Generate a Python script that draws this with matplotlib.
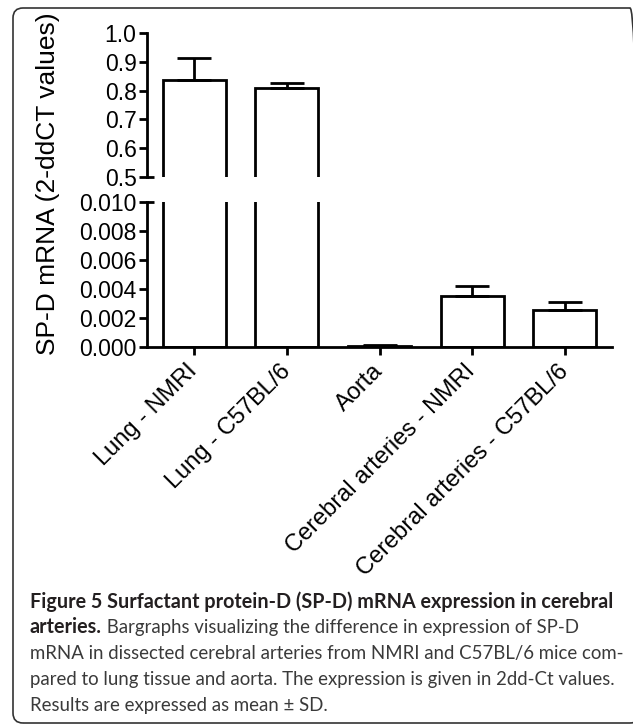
import numpy as np
import matplotlib
matplotlib.use('Agg')
import matplotlib.pyplot as plt
from matplotlib.ticker import FormatStrFormatter
from matplotlib.patches import FancyBboxPatch

# data (mean and SD, 2-ddCT)
groups = ['Lung - NMRI', 'Lung - C57BL/6', 'Aorta',
          'Cerebral arteries - NMRI', 'Cerebral arteries - C57BL/6']
means = [0.838, 0.809, 0.0001, 0.00352, 0.00255]
sds = [0.076, 0.017, 0.00005, 0.00070, 0.00055]

caption_bold1 = 'Figure 5 Surfactant protein-D (SP-D) mRNA expression in cerebral'
caption_bold2 = 'arteries.'
caption_rest = [' Bargraphs visualizing the difference in expression of SP-D',
                'mRNA in dissected cerebral arteries from NMRI and C57BL/6 mice com-',
                'pared to lung tissue and aorta. The expression is given in 2dd-Ct values.',
                'Results are expressed as mean \u00b1 SD.']

plt.rcParams['font.family'] = ['Liberation Sans', 'DejaVu Sans']
W, H = 633, 725
fig = plt.figure(figsize=(W / 100, H / 100), dpi=100)

def px(x0, y_top, x1, y_bot):
    # axes rect from pixel box
    return [x0 / W, 1 - y_bot / H, (x1 - x0) / W, (y_bot - y_top) / H]

ax_hi = fig.add_axes(px(147, 33, 612, 177))
ax_lo = fig.add_axes(px(147, 202, 612, 347))

x = np.arange(len(groups))
lw = 2
for ax in (ax_hi, ax_lo):
    ax.bar(x, means, width=0.68, color='white', edgecolor='black', linewidth=lw, zorder=2)
    ax.errorbar(x, means, yerr=[np.zeros(len(sds)), sds], fmt='none', ecolor='black',
                elinewidth=lw, capsize=12.5, capthick=lw, zorder=3)
    ax.set_xlim(-0.51, 4.51)
    ax.spines['top'].set_visible(False)
    ax.spines['right'].set_visible(False)
    ax.spines['left'].set_linewidth(lw)
    ax.spines['bottom'].set_linewidth(lw)
    ax.tick_params(axis='y', labelsize=16.5, length=5.5, width=lw, pad=2)
    ax.yaxis.remove_overlapping_locs = False

ax_hi.set_ylim(0.5, 1.0)
ax_hi.set_yticks(np.arange(0.5, 1.01, 0.1))
ax_hi.yaxis.set_major_formatter(FormatStrFormatter('%.1f'))
ax_hi.spines['bottom'].set_visible(False)
ax_hi.set_xticks([])
ax_hi.set_yticks([0.5], minor=True)

ax_lo.set_ylim(0, 0.010)
ax_lo.set_yticks(np.arange(0, 0.0101, 0.002))
ax_lo.yaxis.set_major_formatter(FormatStrFormatter('%.3f'))
ax_lo.set_yticks([0.010], minor=True)
ax_lo.set_xticks(x)
ax_lo.set_xticklabels(groups, rotation=45, ha='right', va='center',
                      rotation_mode='anchor', fontsize=17)
ax_lo.tick_params(axis='x', length=6, width=lw, pad=9)

for ax in (ax_hi, ax_lo):
    ax.tick_params(axis='y', which='minor', direction='in', length=5, width=lw)

fig.text(48 / W, 1 - 184 / H, 'SP-D mRNA (2-ddCT values)', rotation=90,
         ha='center', va='center', fontsize=19)

# caption, sized so the long lines span the same width as in the figure
cap_font = ['Lato', 'DejaVu Sans']
x0 = 30 / W
x_end = 616
base = [608, 633, 659, 685, 711]
renderer = fig.canvas.get_renderer()

t1 = fig.text(x0, 1 - base[0] / H, caption_bold1, fontsize=14, fontweight='bold',
              family=cap_font, va='baseline', color='#231f20')
probe = fig.text(x0, 1 - base[3] / H, caption_rest[2], fontsize=14, family=cap_font,
                 va='baseline', color='#3a3a3a')
cs_b = 14 * (x_end - 30) / t1.get_window_extent(renderer).width
cs = 14 * (x_end - 30) / probe.get_window_extent(renderer).width
t1.set_fontsize(cs_b)
probe.set_fontsize(cs)

t2 = fig.text(x0, 1 - base[1] / H, caption_bold2, fontsize=cs_b, fontweight='bold',
              family=cap_font, va='baseline', color='#231f20')
plt.annotate(caption_rest[0], xy=(1.0, 1 - base[1] / H), xycoords=(t2, 'figure fraction'),
             fontsize=cs, family=cap_font, va='baseline', ha='left', color='#3a3a3a')
fig.text(x0, 1 - base[2] / H, caption_rest[1], fontsize=cs, family=cap_font,
         va='baseline', color='#3a3a3a')
fig.text(x0, 1 - base[4] / H, caption_rest[3], fontsize=cs, family=cap_font,
         va='baseline', color='#3a3a3a')

# panel frame (right side runs just past the image edge)
frame = FancyBboxPatch((0.13, 0.02), 6.27, 7.15, boxstyle='round,pad=0,rounding_size=0.1',
                       transform=fig.dpi_scale_trans, fill=False, edgecolor='#333333',
                       linewidth=1.2)
fig.patches.append(frame)

fig.savefig('out.png', dpi=100)
